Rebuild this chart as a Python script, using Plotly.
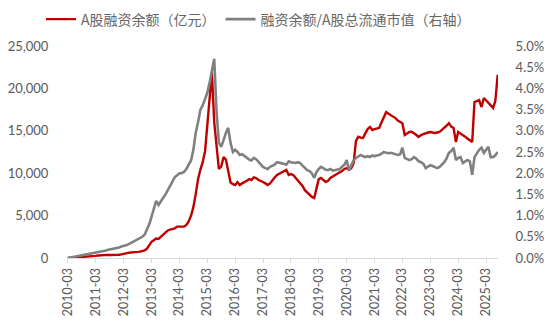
import plotly.graph_objects as go
import pandas as pd

# Monthly dates 2010-03 .. 2025-08
dates = pd.date_range("2010-03-01", "2025-08-01", freq="MS").strftime("%Y-%m-%d").tolist()

# A股融资余额（亿元）
margin_balance = [
    # 2010-03 .. 2010-12
    0, 15, 30, 45, 60, 80, 100, 120, 140, 130,
    # 2011
    150, 200, 250, 300, 330, 360, 380, 370, 360, 350, 370, 380,
    # 2012
    380, 420, 450, 500, 600, 650, 700, 700, 720, 750, 800, 900,
    # 2013
    1100, 1500, 1900, 2100, 2300, 2250, 2500, 2800, 3100, 3250, 3350, 3450,
    # 2014
    3500, 3700, 3700, 3650, 3700, 3900, 4300, 5000, 6000, 7500, 9300, 10400,
    # 2015
    11300, 12600, 15400, 18500, 21900, 16000, 13500, 10500, 10800, 11900, 11600, 10200,
    # 2016
    8900, 8700, 8600, 8950, 8600, 8800, 9000, 9100, 9300, 9200, 9500, 9430,
    # 2017
    9200, 9100, 8960, 8800, 8600, 8800, 9200, 9500, 9800, 9950, 10150, 10300,
    # 2018
    10380, 9800, 9900, 9800, 9500, 9100, 8840, 8500, 8000, 7700, 7430, 7200,
    # 2019
    7070, 8300, 9300, 9430, 9200, 8960, 9100, 9430, 9600, 9800, 10000, 10100,
    # 2020
    10260, 10500, 10600, 10400, 10600, 11200, 13800, 14300, 14200, 14150, 14700, 15200,
    # 2021
    15450, 15100, 15200, 15300, 15330, 16000, 16630, 17200, 17000, 16860, 16700, 16500,
    # 2022
    16200, 16000, 15900, 14500, 14700, 14860, 14900, 14740, 14500, 14270, 14500, 14600,
    # 2023
    14740, 14800, 14860, 14800, 14740, 14800, 14860, 15100, 15330, 15600, 15900, 15500,
    # 2024
    15330, 13680, 14860, 14700, 14500, 14300, 14100, 13900, 13680, 18400, 18500, 18630,
    # 2025-01 .. 2025-08
    17800, 18870, 18600, 18280, 18000, 17700, 18500, 21600,
]

# 融资余额/A股总流通市值（右轴）, in %
margin_ratio_pct = [
    # 2010-03 .. 2010-12
    0.00, 0.01, 0.02, 0.03, 0.04, 0.05, 0.06, 0.07, 0.08, 0.09,
    # 2011
    0.10, 0.11, 0.12, 0.13, 0.14, 0.16, 0.17, 0.19, 0.20, 0.21, 0.22, 0.24,
    # 2012
    0.25, 0.27, 0.28, 0.30, 0.32, 0.35, 0.38, 0.42, 0.44, 0.46, 0.50, 0.55,
    # 2013
    0.66, 0.80, 0.97, 1.15, 1.35, 1.25, 1.35, 1.42, 1.50, 1.60, 1.67, 1.80,
    # 2014
    1.91, 1.95, 2.00, 2.00, 2.03, 2.10, 2.19, 2.30, 2.55, 2.95, 3.20, 3.49,
    # 2015
    3.60, 3.75, 3.89, 4.13, 4.40, 4.70, 3.45, 2.72, 2.62, 2.80, 2.95, 3.07,
    # 2016
    2.71, 2.50, 2.55, 2.50, 2.43, 2.45, 2.40, 2.36, 2.32, 2.30, 2.36, 2.33,
    # 2017
    2.26, 2.20, 2.15, 2.12, 2.10, 2.15, 2.18, 2.20, 2.26, 2.25, 2.24, 2.22,
    # 2018
    2.20, 2.28, 2.26, 2.25, 2.24, 2.26, 2.24, 2.18, 2.12, 2.07, 2.05, 2.00,
    # 2019
    1.89, 2.03, 2.10, 2.15, 2.12, 2.08, 2.07, 2.10, 2.06, 2.07, 2.08, 2.10,
    # 2020
    2.15, 2.20, 2.31, 2.07, 2.19, 2.30, 2.36, 2.40, 2.43, 2.40, 2.38, 2.40,
    # 2021
    2.38, 2.42, 2.40, 2.42, 2.43, 2.46, 2.50, 2.48, 2.47, 2.48, 2.46, 2.44,
    # 2022
    2.43, 2.45, 2.60, 2.36, 2.34, 2.31, 2.33, 2.38, 2.34, 2.28, 2.26, 2.22,
    # 2023
    2.12, 2.15, 2.19, 2.17, 2.14, 2.12, 2.15, 2.20, 2.26, 2.35, 2.48, 2.52,
    # 2024
    2.60, 2.31, 2.36, 2.38, 2.24, 2.28, 2.31, 2.28, 1.96, 2.38, 2.48, 2.55,
    # 2025-01 .. 2025-08
    2.60, 2.48, 2.55, 2.62, 2.38, 2.38, 2.42, 2.50,
]

tick_dates = [f"{y}-03-01" for y in range(2010, 2026)]
tick_labels = [f"{y}-03" for y in range(2010, 2026)]

red_name = "A股融资余额（亿元）"
gray_name = "融资余额/A股总流通市值（右轴）"

fig = go.Figure()
fig.add_trace(go.Scatter(
    x=dates, y=[v / 100 for v in margin_ratio_pct], name=gray_name, yaxis="y2",
    mode="lines", line=dict(color="#808080", width=2.6), legendrank=2,
))
fig.add_trace(go.Scatter(
    x=dates, y=margin_balance, name=red_name, yaxis="y",
    mode="lines", line=dict(color="#C00000", width=2.4), legendrank=1,
))

tick_font = dict(family="Lato, 'Noto Sans CJK SC', sans-serif", size=13, color="#595959")

fig.update_layout(
    width=550, height=326,
    margin=dict(l=67, r=52, t=46, b=68, autoexpand=False),
    paper_bgcolor="white", plot_bgcolor="white",
    showlegend=True,
    legend=dict(
        orientation="h", xref="container", yref="container",
        x=0.47, xanchor="center", y=0.94, yanchor="middle",
        font=dict(family="'Noto Sans CJK SC', sans-serif", size=14, color="#666666"),
        itemwidth=30, tracegroupgap=0, bgcolor="rgba(0,0,0,0)",
    ),
    xaxis=dict(
        type="date", range=["2010-02-18", "2025-08-05"],
        tickmode="array", tickvals=tick_dates, ticktext=tick_labels,
        tickangle=-90, tickfont=dict(family="Lato, sans-serif", size=12.5, color="#595959"),
        showline=True, linecolor="#D9D9D9", linewidth=1,
        ticks="outside", ticklen=4, tickcolor="#D9D9D9",
        showgrid=False, zeroline=False,
    ),
    yaxis=dict(
        range=[0, 25000], dtick=5000, tickformat=",",
        tickfont=tick_font, showgrid=False, zeroline=False, showline=False,
        ticks="outside", ticklen=15, tickcolor="rgba(0,0,0,0)",
    ),
    yaxis2=dict(
        range=[0, 0.05], dtick=0.005, tickformat=".1%",
        overlaying="y", side="right",
        tickfont=tick_font, showgrid=False, zeroline=False, showline=False,
        ticks="outside", ticklen=14, tickcolor="rgba(0,0,0,0)",
    ),
)

fig.write_html("out.html")
